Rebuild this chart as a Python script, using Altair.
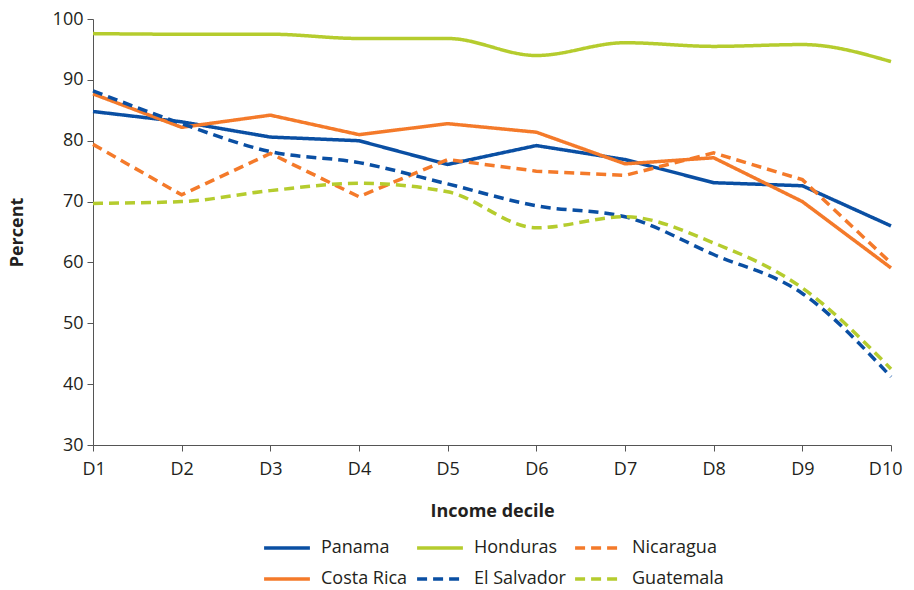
import altair as alt
import pandas as pd

deciles = ["D1", "D2", "D3", "D4", "D5", "D6", "D7", "D8", "D9", "D10"]
panama = [84.8, 83.1, 80.6, 80.0, 76.1, 79.2, 76.9, 73.1, 72.6, 66.0]
costa_rica = [87.7, 82.2, 84.2, 81.0, 82.8, 81.4, 76.2, 77.2, 70.0, 59.1]
nicaragua = [79.4, 71.1, 77.9, 70.8, 76.9, 75.0, 74.3, 78.0, 73.6, 59.9]
el_salvador = [88.2, 82.8, 78.2, 76.4, 72.9, 69.3, 67.5, 61.3, 54.9, 41.2]
guatemala = [69.7, 70.0, 71.8, 73.0, 71.6, 65.7, 67.5, 63.2, 55.8, 42.5]
honduras = [97.6, 97.5, 97.5, 96.8, 96.8, 94.0, 96.1, 95.5, 95.8, 93.0]

# legend fills column by column: (Panama, Costa Rica), (Honduras, El Salvador), (Nicaragua, Guatemala)
order = ["Panama", "Costa Rica", "Honduras", "El Salvador", "Nicaragua", "Guatemala"]
colors = ["#0a4fa3", "#f47a2a", "#b5cc2e", "#0a4fa3", "#f47a2a", "#b5cc2e"]
dashes = [[1, 0], [1, 0], [1, 0], [10, 6], [10, 6], [10, 6]]

series = {
    "Panama": panama, "Honduras": honduras, "Nicaragua": nicaragua,
    "Costa Rica": costa_rica, "El Salvador": el_salvador, "Guatemala": guatemala,
}
rows = []
for name, vals in series.items():
    for d, v in zip(deciles, vals):
        rows.append({"decile": d, "value": v, "country": name})
df = pd.DataFrame(rows)

linear_set = ["Panama", "Costa Rica", "Nicaragua"]
smooth_set = ["Honduras", "El Salvador", "Guatemala"]

font = "Open Sans"
txt = "#231f20"

x = alt.X("decile:N", sort=deciles, title="Income decile",
          scale=alt.Scale(type="point", padding=0),
          axis=alt.Axis(labelAngle=0, titleFontWeight="bold", titlePadding=24,
                        labelPadding=9, labelFlush=True, labelFlushOffset=11))
y = alt.Y("value:Q", title="Percent",
          scale=alt.Scale(domain=[30, 100], nice=False, zero=False),
          axis=alt.Axis(values=[30, 40, 50, 60, 70, 80, 90, 100], grid=False,
                        titleFontWeight="bold", titlePadding=26))
color = alt.Color("country:N", title=None,
                  scale=alt.Scale(domain=order, range=colors),
                  legend=alt.Legend(orient="none", legendX=169, legendY=515,
                                    columns=3, symbolType="stroke",
                                    symbolSize=2100, symbolStrokeWidth=3.5,
                                    labelFontSize=18, columnPadding=7, rowPadding=3,
                                    clipHeight=28,
                                    labelFont=font, labelColor=txt, labelOffset=9))
dash = alt.StrokeDash("country:N", title=None,
                      scale=alt.Scale(domain=order, range=dashes))

lin = alt.Chart(df).transform_filter(
    alt.FieldOneOfPredicate(field="country", oneOf=linear_set)
).mark_line(strokeWidth=3.5).encode(x=x, y=y, color=color, strokeDash=dash)

smo = alt.Chart(df).transform_filter(
    alt.FieldOneOfPredicate(field="country", oneOf=smooth_set)
).mark_line(strokeWidth=3.5, interpolate="monotone").encode(x=x, y=y, color=color, strokeDash=dash)

chart = alt.layer(lin, smo).properties(
    width=798, height=426,
    autosize=alt.AutoSizeParams(type="none"),
    padding={"left": 85, "top": 11, "right": 15, "bottom": 150}
).configure_view(stroke=None).configure_axis(
    labelFont=font, titleFont=font, labelFontSize=18, titleFontSize=18,
    labelColor=txt, titleColor=txt, domainColor="#555555",
    tickColor="#555555", tickSize=6, labelPadding=4
)

chart.save("out.html", embed_options={"renderer": "svg", "actions": False})
